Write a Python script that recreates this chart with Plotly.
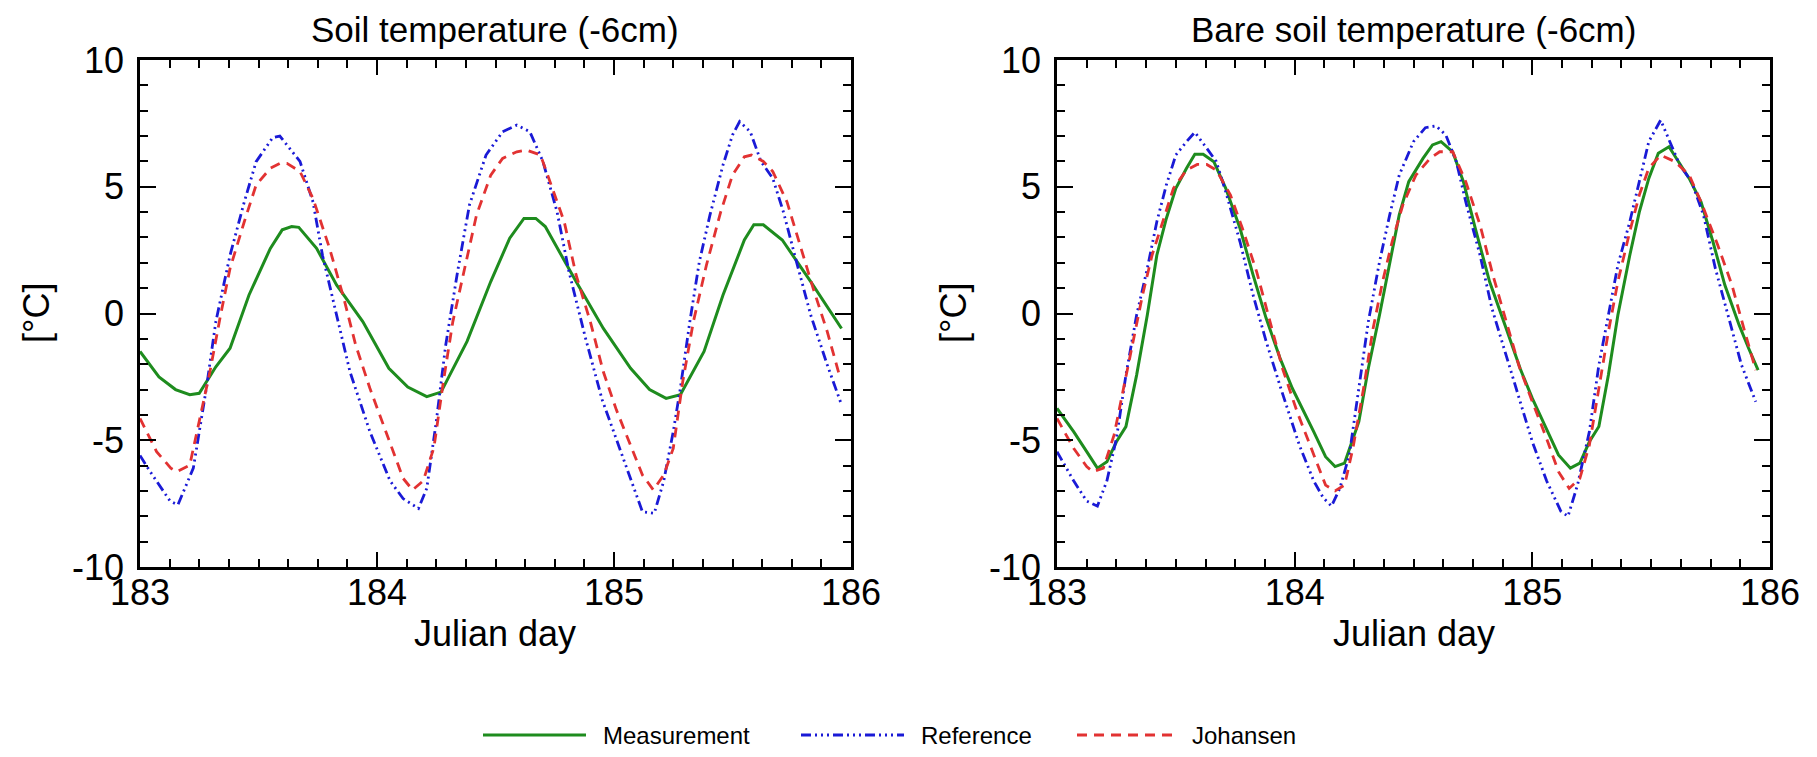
import plotly.graph_objects as go

# ---------------- data ----------------
# Left panel: Soil temperature (-6cm)
soil_meas_day = [183.00, 183.08, 183.15, 183.21, 183.25, 183.32, 183.38, 183.46, 183.55, 183.60, 183.64, 183.67,
                 183.745, 183.83, 183.94, 184.05, 184.13, 184.21, 184.27, 184.38, 184.48, 184.56, 184.62, 184.67,
                 184.71, 184.84, 184.955, 185.07, 185.15, 185.22, 185.28, 185.38, 185.46, 185.55, 185.59, 185.63,
                 185.71, 185.83, 185.96]
soil_meas_temp = [-1.5, -2.5, -3.0, -3.2, -3.15, -2.1, -1.37, 0.73, 2.57, 3.3, 3.43, 3.4,
                  2.57, 1.12, -0.32, -2.16, -2.9, -3.28, -3.1, -1.1, 1.26, 2.97, 3.75, 3.75,
                  3.43, 1.26, -0.59, -2.16, -3.0, -3.35, -3.2, -1.5, 0.73, 2.9, 3.5, 3.5,
                  2.9, 1.26, -0.59]

soil_ref_day = [183.00, 183.04, 183.127, 183.16, 183.225, 183.28, 183.32, 183.38, 183.44, 183.49, 183.56, 183.59,
                183.675, 183.73, 183.77, 183.83, 183.886, 183.97, 184.055, 184.11, 184.175, 184.21, 184.25, 184.29,
                184.34, 184.39, 184.46, 184.53, 184.59, 184.645, 184.70, 184.76, 184.81, 184.88, 184.95, 185.05,
                185.12, 185.17, 185.21, 185.25, 185.28, 185.32, 185.36, 185.405, 185.46, 185.50, 185.53, 185.575,
                185.62, 185.67, 185.715, 185.77, 185.83, 185.90, 185.96]
soil_ref_temp = [-5.6, -6.2, -7.4, -7.55, -6.1, -2.95, -0.32, 2.3, 4.4, 5.99, 6.94, 7.0,
                 6.0, 4.4, 2.3, -0.06, -2.3, -4.66, -6.6, -7.3, -7.69, -6.9, -4.27, -1.24,
                 1.65, 4.28, 6.25, 7.17, 7.43, 7.17, 6.0, 4.0, 1.65, -0.98, -3.4, -6.0,
                 -7.82, -7.88, -6.6, -4.66, -2.95, -0.32, 2.04, 3.89, 5.86, 7.04, 7.57, 7.17,
                 6.0, 5.33, 4.0, 2.04, -0.06, -2.03, -3.6]

soil_joh_day = [183.00, 183.07, 183.13, 183.155, 183.21, 183.25, 183.295, 183.34, 183.38, 183.44, 183.49, 183.55,
                183.59, 183.62, 183.675, 183.73, 183.80, 183.86, 183.91, 183.97, 184.05, 184.11, 184.15, 184.195,
                184.24, 184.28, 184.32, 184.37, 184.42, 184.48, 184.53, 184.59, 184.63, 184.69, 184.73, 184.79,
                184.84, 184.90, 184.955, 185.01, 185.07, 185.12, 185.166, 185.21, 185.25, 185.29, 185.335, 185.39,
                185.45, 185.50, 185.55, 185.58, 185.63, 185.67, 185.73, 185.785, 185.84, 185.90, 185.95]
soil_joh_temp = [-4.14, -5.45, -6.1, -6.24, -5.98, -4.27, -2.3, -0.06, 1.78, 3.62, 5.07, 5.73,
                 5.92, 5.92, 5.6, 4.54, 2.57, 0.6, -1.24, -2.95, -5.0, -6.5, -6.96, -6.6,
                 -5.3, -2.69, -0.32, 1.78, 3.89, 5.46, 6.12, 6.38, 6.45, 6.25, 5.2, 3.62,
                 1.52, -0.32, -2.3, -3.8, -5.2, -6.37, -6.96, -6.37, -5.32, -2.69, -0.32, 1.91,
                 4.0, 5.46, 6.18, 6.25, 6.0, 5.6, 4.4, 2.7, 1.0, -0.72, -2.4]

# Right panel: Bare soil temperature (-6cm)
bare_meas_day = [183.00, 183.07, 183.125, 183.17, 183.21, 183.25, 183.29, 183.335, 183.38, 183.42, 183.46, 183.50,
                 183.545, 183.58, 183.615, 183.66, 183.71, 183.77, 183.825, 183.88, 183.94, 183.99, 184.08, 184.13,
                 184.17, 184.21, 184.27, 184.31, 184.357, 184.40, 184.44, 184.48, 184.54, 184.58, 184.616, 184.665,
                 184.71, 184.76, 184.82, 184.89, 184.95, 185.00, 185.06, 185.11, 185.16, 185.20, 185.24, 185.28,
                 185.32, 185.36, 185.41, 185.45, 185.49, 185.53, 185.575, 185.615, 185.66, 185.71, 185.76, 185.81,
                 185.87, 185.91, 185.95]
bare_meas_temp = [-3.74, -4.66, -5.45, -6.1, -5.85, -5.06, -4.46, -2.43, -0.06, 2.3, 3.75, 4.94,
                  5.73, 6.28, 6.28, 5.99, 4.94, 3.36, 1.52, -0.19, -1.8, -2.95, -4.66, -5.65,
                  -6.04, -5.9, -4.27, -2.16, -0.06, 2.04, 3.89, 5.2, 6.12, 6.65, 6.78, 6.38,
                  5.2, 3.36, 1.26, -0.59, -2.2, -3.35, -4.53, -5.58, -6.1, -5.9, -5.06, -4.46,
                  -2.43, -0.06, 2.3, 4.0, 5.33, 6.32, 6.58, 5.99, 5.33, 4.4, 2.83, 1.12,
                  -0.45, -1.37, -2.23]

bare_ref_day = [183.00, 183.07, 183.125, 183.17, 183.21, 183.25, 183.29, 183.335, 183.38, 183.42, 183.46, 183.50,
                183.545, 183.58, 183.63, 183.67, 183.71, 183.77, 183.825, 183.88, 183.94, 184.02, 184.08, 184.12,
                184.155, 184.19, 184.23, 184.27, 184.31, 184.357, 184.40, 184.44, 184.50, 184.55, 184.595, 184.636,
                184.68, 184.72, 184.78, 184.83, 184.89, 184.945, 185.00, 185.06, 185.12, 185.15, 185.19, 185.24,
                185.28, 185.32, 185.36, 185.41, 185.45, 185.49, 185.54, 185.58, 185.62, 185.67, 185.72, 185.77,
                185.83, 185.88, 185.94]
bare_ref_temp = [-5.45, -6.6, -7.4, -7.6, -6.6, -4.93, -2.43, -0.06, 1.78, 3.62, 5.07, 6.25,
                 6.78, 7.15, 6.52, 6.0, 4.8, 2.83, 0.73, -1.1, -2.9, -5.2, -6.6, -7.27,
                 -7.6, -6.9, -5.58, -2.95, -0.32, 2.04, 3.89, 5.46, 6.78, 7.33, 7.4, 7.04,
                 6.0, 4.4, 2.3, 0.2, -1.64, -3.4, -5.06, -6.6, -7.8, -8.0, -6.77, -4.66,
                 -2.03, -0.06, 1.91, 3.62, 5.2, 6.78, 7.63, 6.78, 5.86, 5.2, 3.89, 1.78,
                 -0.32, -2.03, -3.48]

bare_joh_day = [183.00, 183.07, 183.125, 183.15, 183.195, 183.24, 183.28, 183.32, 183.36, 183.40, 183.45, 183.49,
                183.545, 183.59, 183.63, 183.67, 183.73, 183.78, 183.84, 183.895, 183.95, 184.01, 184.08, 184.13,
                184.17, 184.21, 184.245, 184.29, 184.33, 184.37, 184.41, 184.455, 184.51, 184.57, 184.61, 184.665,
                184.72, 184.78, 184.834, 184.89, 184.945, 185.00, 185.06, 185.11, 185.155, 185.20, 185.24, 185.28,
                185.32, 185.36, 185.41, 185.45, 185.49, 185.54, 185.60, 185.66, 185.71, 185.78, 185.84, 185.89,
                185.94]
bare_joh_temp = [-4.14, -5.32, -6.04, -6.24, -6.1, -4.8, -2.95, -1.1, 0.73, 2.3, 3.75, 4.94,
                 5.66, 5.88, 5.88, 5.66, 4.67, 3.36, 1.65, -0.32, -2.2, -3.87, -5.58, -6.77,
                 -7.0, -6.77, -5.32, -2.95, -0.59, 1.26, 2.83, 4.28, 5.46, 6.12, 6.38, 6.38,
                 5.2, 3.49, 1.52, -0.32, -2.1, -3.48, -4.93, -6.24, -6.9, -6.5, -5.19, -2.95,
                 -0.72, 1.26, 3.23, 4.67, 5.73, 6.25, 5.99, 5.46, 4.4, 2.7, 1.12, -0.59,
                 -2.23]

panel_titles = ["Soil temperature (-6cm)", "Bare soil temperature (-6cm)"]
series_names = ["Measurement", "Reference", "Johansen"]
x_tick_vals = [183, 184, 185, 186]
x_tick_text = ["183", "184", "185", "186"]
y_tick_vals = [-10, -5, 0, 5, 10]
y_tick_text = ["-10", "-5", "0", "5", "10"]

# ---------------- styling ----------------
PAGE_W, PAGE_H = 1817, 757
OFF = 8                      # default page (body) margin around the figure
W, H = PAGE_W - 2 * OFF, PAGE_H - 2 * OFF
FONT = "Liberation Sans, Arial, sans-serif"
col_meas = "#1e8c1e"
col_ref = "#1a1ad6"
col_joh = "#e23232"
dash_ref = "10px,4px,2px,4px,2px,4px,2px,4px"
dash_joh = "10px,7px"
styles = [
    dict(color=col_meas, width=3),
    dict(color=col_ref, width=2.8, dash=dash_ref),
    dict(color=col_joh, width=2.8, dash=dash_joh),
]

fig = go.Figure()

panels = [
    ([soil_meas_day, soil_ref_day, soil_joh_day], [soil_meas_temp, soil_ref_temp, soil_joh_temp], "x", "y"),
    ([bare_meas_day, bare_ref_day, bare_joh_day], [bare_meas_temp, bare_ref_temp, bare_joh_temp], "x2", "y2"),
]
for days, temps, xa, ya in panels:
    for name, d, t, st in zip(series_names, days, temps, styles):
        fig.add_trace(go.Scatter(x=d, y=t, mode="lines", name=name, xaxis=xa, yaxis=ya,
                                 line=st, showlegend=False))


def px_x(p):
    """page pixel column -> paper fraction"""
    return (p - OFF) / W


def px_y(p):
    """page pixel row -> paper fraction"""
    return 1 - (p - OFF) / H


x_dom_l = [px_x(140), px_x(851)]
x_dom_r = [px_x(1057), px_x(1770)]
y_dom = [px_y(567), px_y(60)]

# pull the x tick labels up closer to the axis (as in the reference)
X_STANDOFF = -8
try:
    go.layout.XAxis(ticklabelstandoff=X_STANDOFF)
except ValueError:
    X_STANDOFF = 0

TICKFONT = dict(family=FONT, size=36, color="black")
common_x = dict(range=[183, 186], tickvals=x_tick_vals, ticktext=x_tick_text, ticks="inside", ticklen=15,
                tickwidth=2, tickcolor="black", showline=True, linecolor="black", linewidth=2.5, mirror="ticks",
                showgrid=False, zeroline=False, tickfont=TICKFONT, automargin=False,
                minor=dict(dtick=0.125, ticks="inside", ticklen=8, tickwidth=2, tickcolor="black", showgrid=False),
                ticklabelstandoff=X_STANDOFF)
common_y = dict(range=[-10, 10], tickvals=y_tick_vals, ticktext=y_tick_text, ticks="inside", ticklen=16,
                tickwidth=2, tickcolor="black", showline=True, linecolor="black", linewidth=2.5, mirror="ticks",
                showgrid=False, zeroline=False, tickfont=TICKFONT, automargin=False,
                minor=dict(dtick=1, ticks="inside", ticklen=8, tickwidth=2, tickcolor="black", showgrid=False),
                ticklabelstandoff=6)

fig.update_layout(
    width=W, height=H,
    margin=dict(l=0, r=0, t=0, b=0, autoexpand=False),
    paper_bgcolor="white", plot_bgcolor="white",
    font=dict(family=FONT, color="black"),
    xaxis=dict(domain=x_dom_l, anchor="y", **common_x),
    yaxis=dict(domain=y_dom, anchor="x", **common_y),
    xaxis2=dict(domain=x_dom_r, anchor="y2", **common_x),
    yaxis2=dict(domain=y_dom, anchor="x2", **common_y),
    showlegend=False,
)

centers = [(140 + 851) / 2, (1057 + 1770) / 2]
annos = []
shapes = []
for c, t in zip(centers, panel_titles):
    annos.append(dict(text=t, x=px_x(c), y=px_y(8), xref="paper", yref="paper", showarrow=False,
                      xanchor="center", yanchor="top", font=dict(family=FONT, size=35, color="black")))
    annos.append(dict(text="Julian day", x=px_x(c), y=px_y(633), xref="paper", yref="paper", showarrow=False,
                      xanchor="center", yanchor="middle", font=dict(family=FONT, size=36, color="black")))
for xp in [36, 953]:
    annos.append(dict(text="[°C]", x=px_x(xp), y=px_y(313), xref="paper", yref="paper", showarrow=False,
                      textangle=-90, xanchor="center", yanchor="middle",
                      font=dict(family=FONT, size=36, color="black")))

# legend drawn below the panels (sample line + label per series)
legend_line_px = [(483, 586), (801, 904), (1077, 1175)]
legend_y_px = 735
for name, st, (x0, x1) in zip(series_names, styles, legend_line_px):
    shapes.append(dict(type="line", xref="paper", yref="paper", x0=px_x(x0), x1=px_x(x1),
                       y0=px_y(legend_y_px), y1=px_y(legend_y_px),
                       line=dict(color=st["color"], width=3, dash=st.get("dash", "solid"))))
    annos.append(dict(text=name, x=px_x(x1 + 15), y=px_y(legend_y_px), xref="paper", yref="paper",
                      showarrow=False, xanchor="left", yanchor="middle",
                      font=dict(family=FONT, size=24, color="black")))

fig.update_layout(annotations=annos, shapes=shapes)

fig.write_html("out.html")
